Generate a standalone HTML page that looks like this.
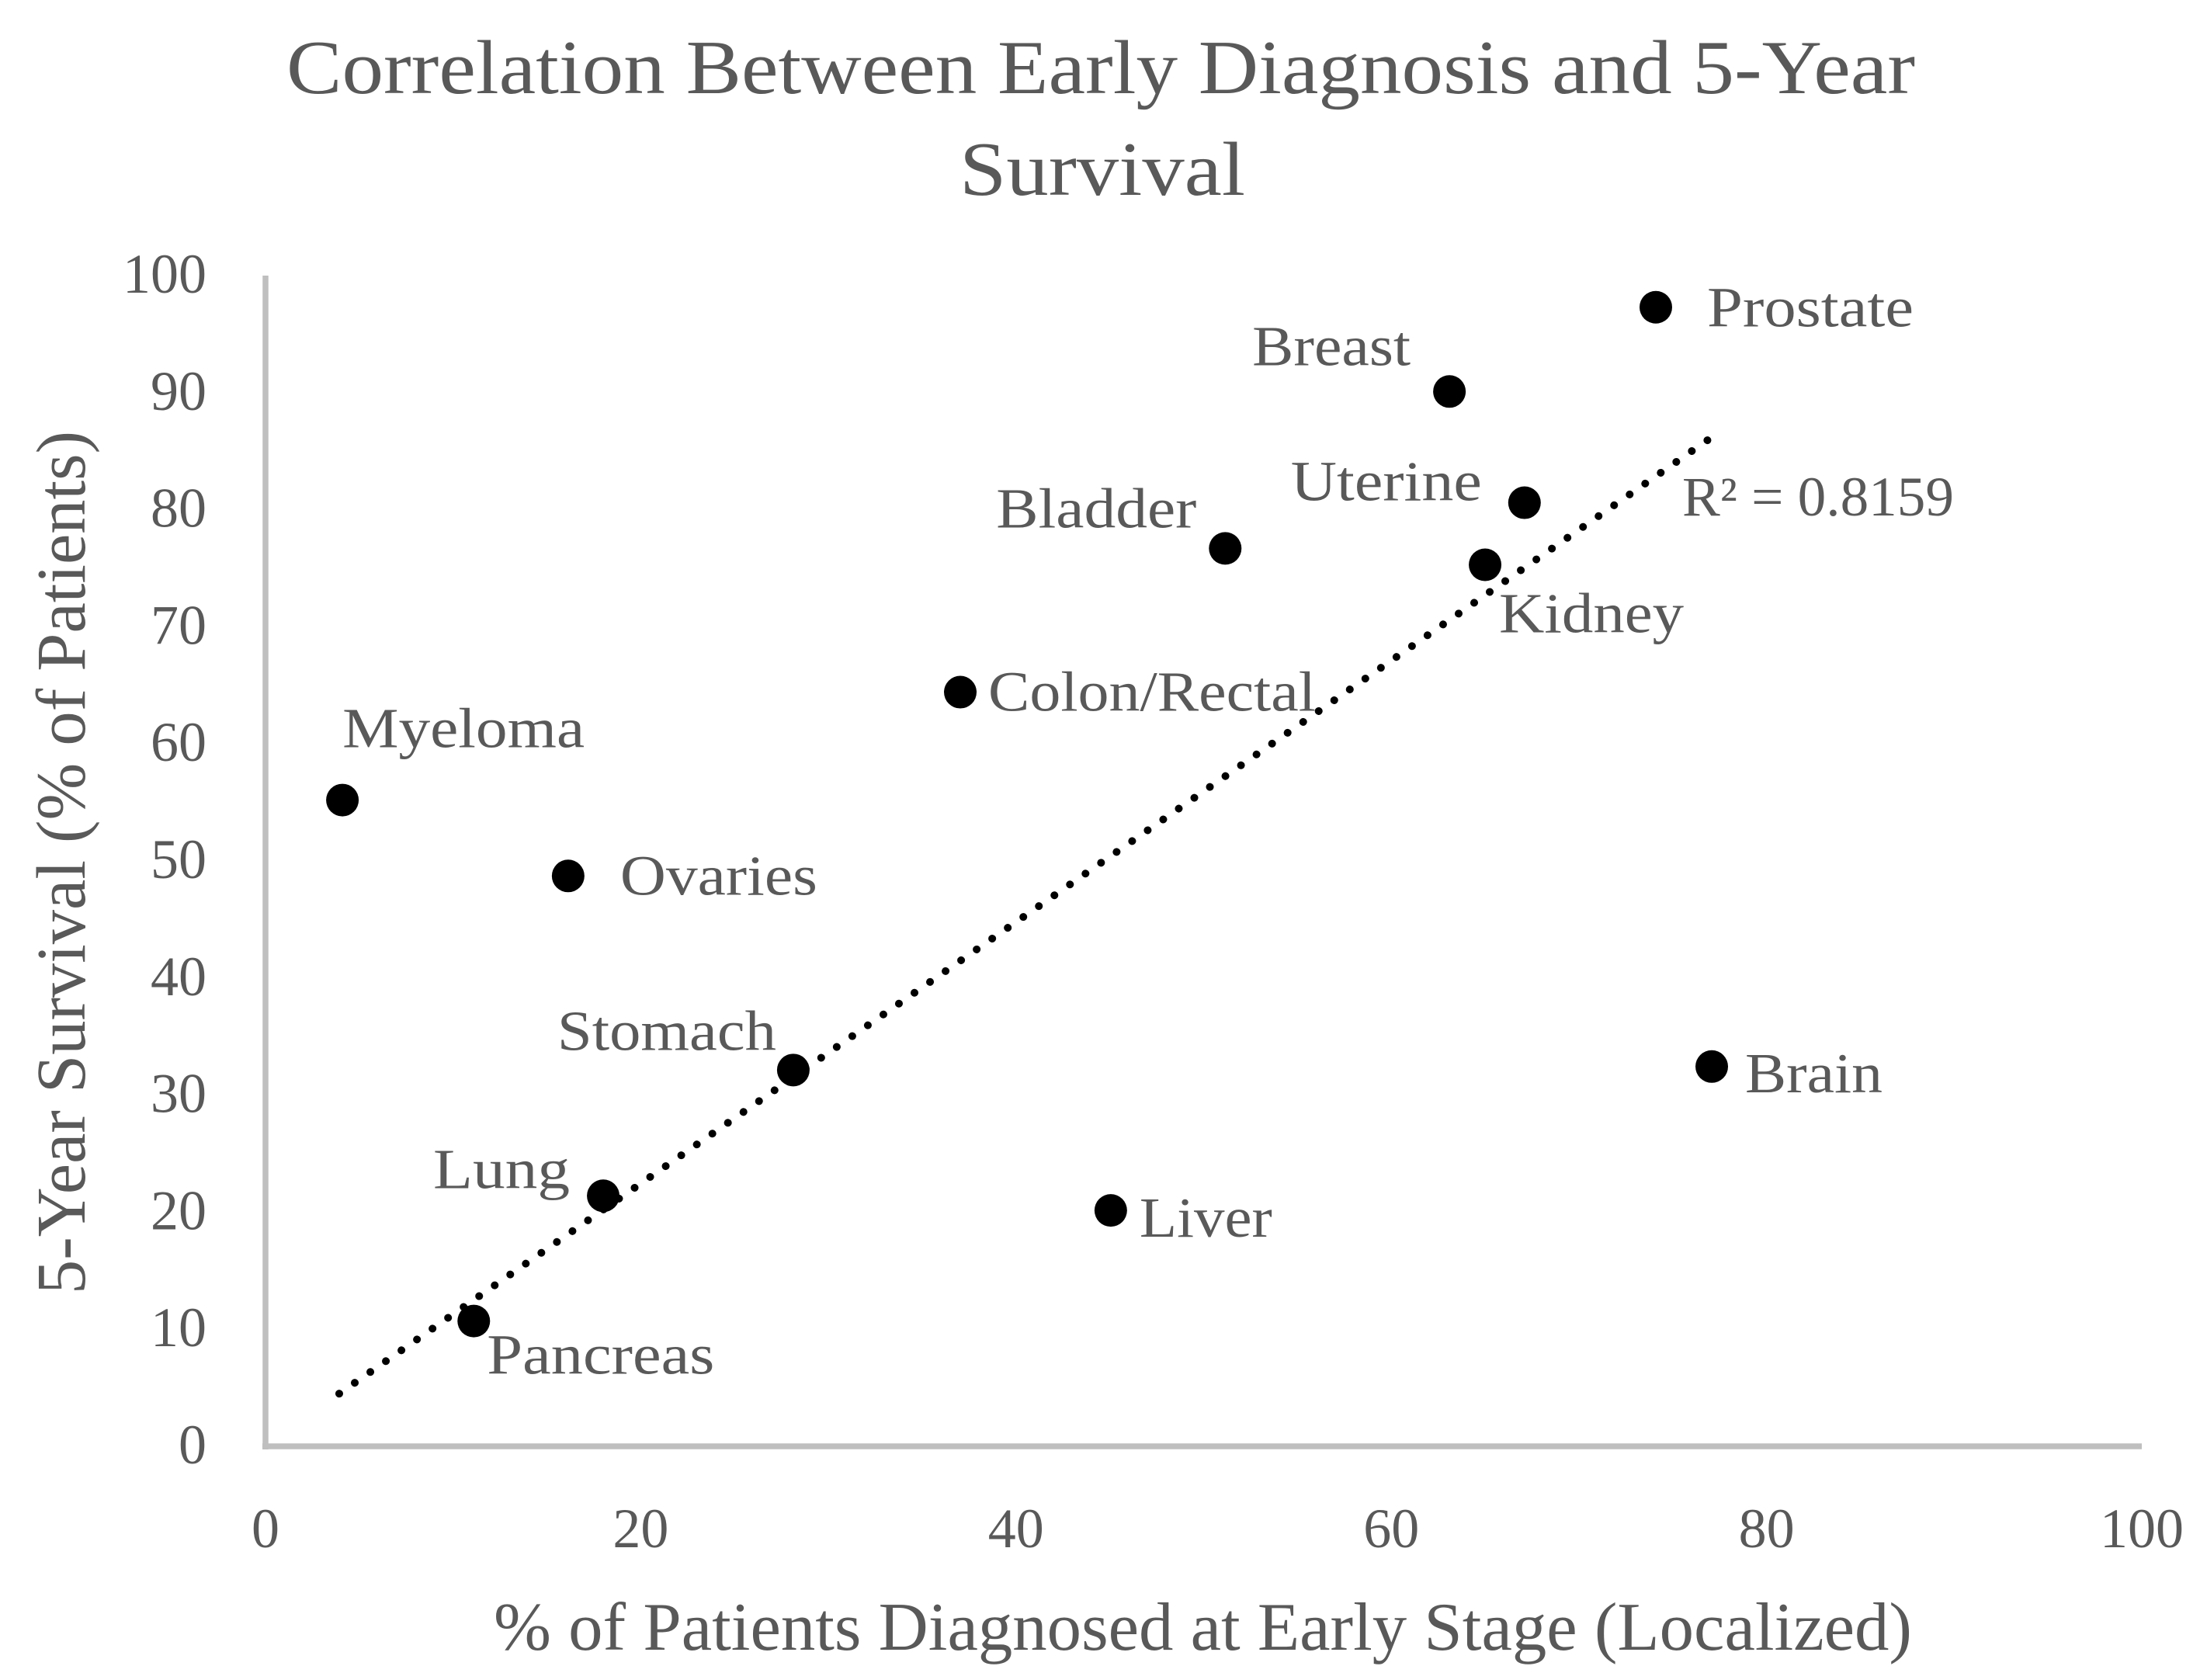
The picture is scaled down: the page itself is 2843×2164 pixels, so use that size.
<!DOCTYPE html>
<html lang="en">
<head>
<meta charset="utf-8">
<title>Correlation Between Early Diagnosis and 5-Year Survival</title>
<style>
html,body{margin:0;padding:0;background:#fff;}
svg{display:block;}
text{font-family:"Liberation Serif",serif;fill:#595959;}
</style>
</head>
<body>
<svg id="chart" xmlns="http://www.w3.org/2000/svg" width="2843" height="2164" viewBox="0 0 2843 2164">
  <rect x="0" y="0" width="2843" height="2164" fill="#ffffff"/>
  <text x="369" y="120" font-size="99" textLength="2098" lengthAdjust="spacingAndGlyphs">Correlation Between Early Diagnosis and 5-Year</text>
  <text x="1236" y="251" font-size="99" textLength="368" lengthAdjust="spacingAndGlyphs">Survival</text>
  <text transform="translate(109 1667) rotate(-90)" x="0" y="0" font-size="90" textLength="1112" lengthAdjust="spacingAndGlyphs">5-Year Survival (% of Patients)</text>
  <text x="636" y="2125" font-size="88" textLength="1827" lengthAdjust="spacingAndGlyphs">% of Patients Diagnosed at Early Stage (Localized)</text>
  <g id="axes"></g>
  <g id="trend"></g>
  <g id="points"></g>
  <g id="labels"></g>
  <text x="2167" y="664" font-size="72" textLength="350" lengthAdjust="spacingAndGlyphs">R² = 0.8159</text>
</svg>
<script>
const cancers = ["Myeloma","Ovaries","Pancreas","Lung","Stomach","Liver","Colon/Rectal","Bladder","Kidney","Uterine","Breast","Prostate","Brain"];
const earlyDiagnosis = [4.1,16.13,11.1,18.0,28.13,45.05,37.03,51.15,65.0,67.1,63.1,74.1,77.08];
const survival = [55.2,48.72,10.7,21.4,32.14,20.15,64.42,76.7,75.3,80.6,90.1,97.3,32.44];
const xTicks = [0,20,40,60,80,100];
const yTicks = [0,10,20,30,40,50,60,70,80,90,100];
const trendX = [3.93,76.95];
const trendY = [4.5,86.05];

// Layout only: label offset from its point, baseline offset and rendered width, in pixels.
const labelLayout = {
  "Myeloma":{dx:0,dy:-68,w:312},
  "Ovaries":{dx:67,dy:24,w:254},
  "Pancreas":{dx:17,dy:68,w:293},
  "Lung":{dx:-219,dy:-10,w:176},
  "Stomach":{dx:-304,dy:-26,w:282},
  "Liver":{dx:37,dy:34,w:171},
  "Colon/Rectal":{dx:36,dy:24,w:422},
  "Bladder":{dx:-295,dy:-27,w:258},
  "Kidney":{dx:18,dy:87,w:238},
  "Uterine":{dx:-301,dy:-3,w:246},
  "Breast":{dx:-254,dy:-34,w:204},
  "Prostate":{dx:66,dy:25,w:266},
  "Brain":{dx:43,dy:33,w:177}
};

const NS = "http://www.w3.org/2000/svg";
const X0 = 342, X100 = 2759, Y0 = 1863, Y100 = 355;
function xScale(v){ return X0 + (X100 - X0) * v / 100; }
function yScale(v){ return Y0 - (Y0 - Y100) * v / 100; }
function make(tag, parent){
  const el = document.createElementNS(NS, tag);
  parent.appendChild(el);
  return el;
}
const axes = document.getElementById("axes");
const trend = document.getElementById("trend");
const points = document.getElementById("points");
const labels = document.getElementById("labels");

const yLine = make("line", axes);


yLine.setAttribute("x1", xScale(0));
yLine.setAttribute("x2", xScale(0));
yLine.setAttribute("y1", yScale(100));
yLine.setAttribute("y2", yScale(0) + 4);
yLine.setAttribute("stroke", "#bfbfbf");
yLine.setAttribute("stroke-width", "7.5");

const xLine = make("line", axes);


xLine.setAttribute("x1", xScale(0) - 4);
xLine.setAttribute("x2", xScale(100));
xLine.setAttribute("y1", yScale(0));
xLine.setAttribute("y2", yScale(0));
xLine.setAttribute("stroke", "#bfbfbf");
xLine.setAttribute("stroke-width", "7.5");

yTicks.forEach(function(t){
  const el = make("text", axes);
  
  
  el.setAttribute("x", 266);
  el.setAttribute("y", yScale(t) + 22);
  el.setAttribute("font-size", "72");
  el.setAttribute("text-anchor", "end");
  el.textContent = t;
});

xTicks.forEach(function(t){
  const el = make("text", axes);
  
  
  el.setAttribute("x", xScale(t));
  el.setAttribute("y", 1993);
  el.setAttribute("font-size", "72");
  el.setAttribute("text-anchor", "middle");
  el.textContent = t;
});

const trendLine = make("line", trend);


trendLine.setAttribute("x1", xScale(trendX[0]));
trendLine.setAttribute("y1", yScale(trendY[0]));
trendLine.setAttribute("x2", xScale(trendX[1]));
trendLine.setAttribute("y2", yScale(trendY[1]));
trendLine.setAttribute("stroke", "#000000");
trendLine.setAttribute("stroke-width", "10");
trendLine.setAttribute("stroke-linecap", "round");
trendLine.setAttribute("stroke-dasharray", "0.01 24.4");

cancers.forEach(function(name, i){
  const cx = xScale(earlyDiagnosis[i]);
  const cy = yScale(survival[i]);
  const dot = make("circle", points);
  
  
  dot.setAttribute("cx", cx);
  dot.setAttribute("cy", cy);
  dot.setAttribute("r", 21);
  dot.setAttribute("fill", "#000000");

  const layout = labelLayout[name];
  const label = make("text", labels);
  
  
  label.setAttribute("x", cx + layout.dx);
  label.setAttribute("y", cy + layout.dy);
  label.setAttribute("font-size", "73");
  label.setAttribute("textLength", layout.w);
  label.setAttribute("lengthAdjust", "spacingAndGlyphs");
  label.textContent = name;
});
</script>
</body>
</html>
